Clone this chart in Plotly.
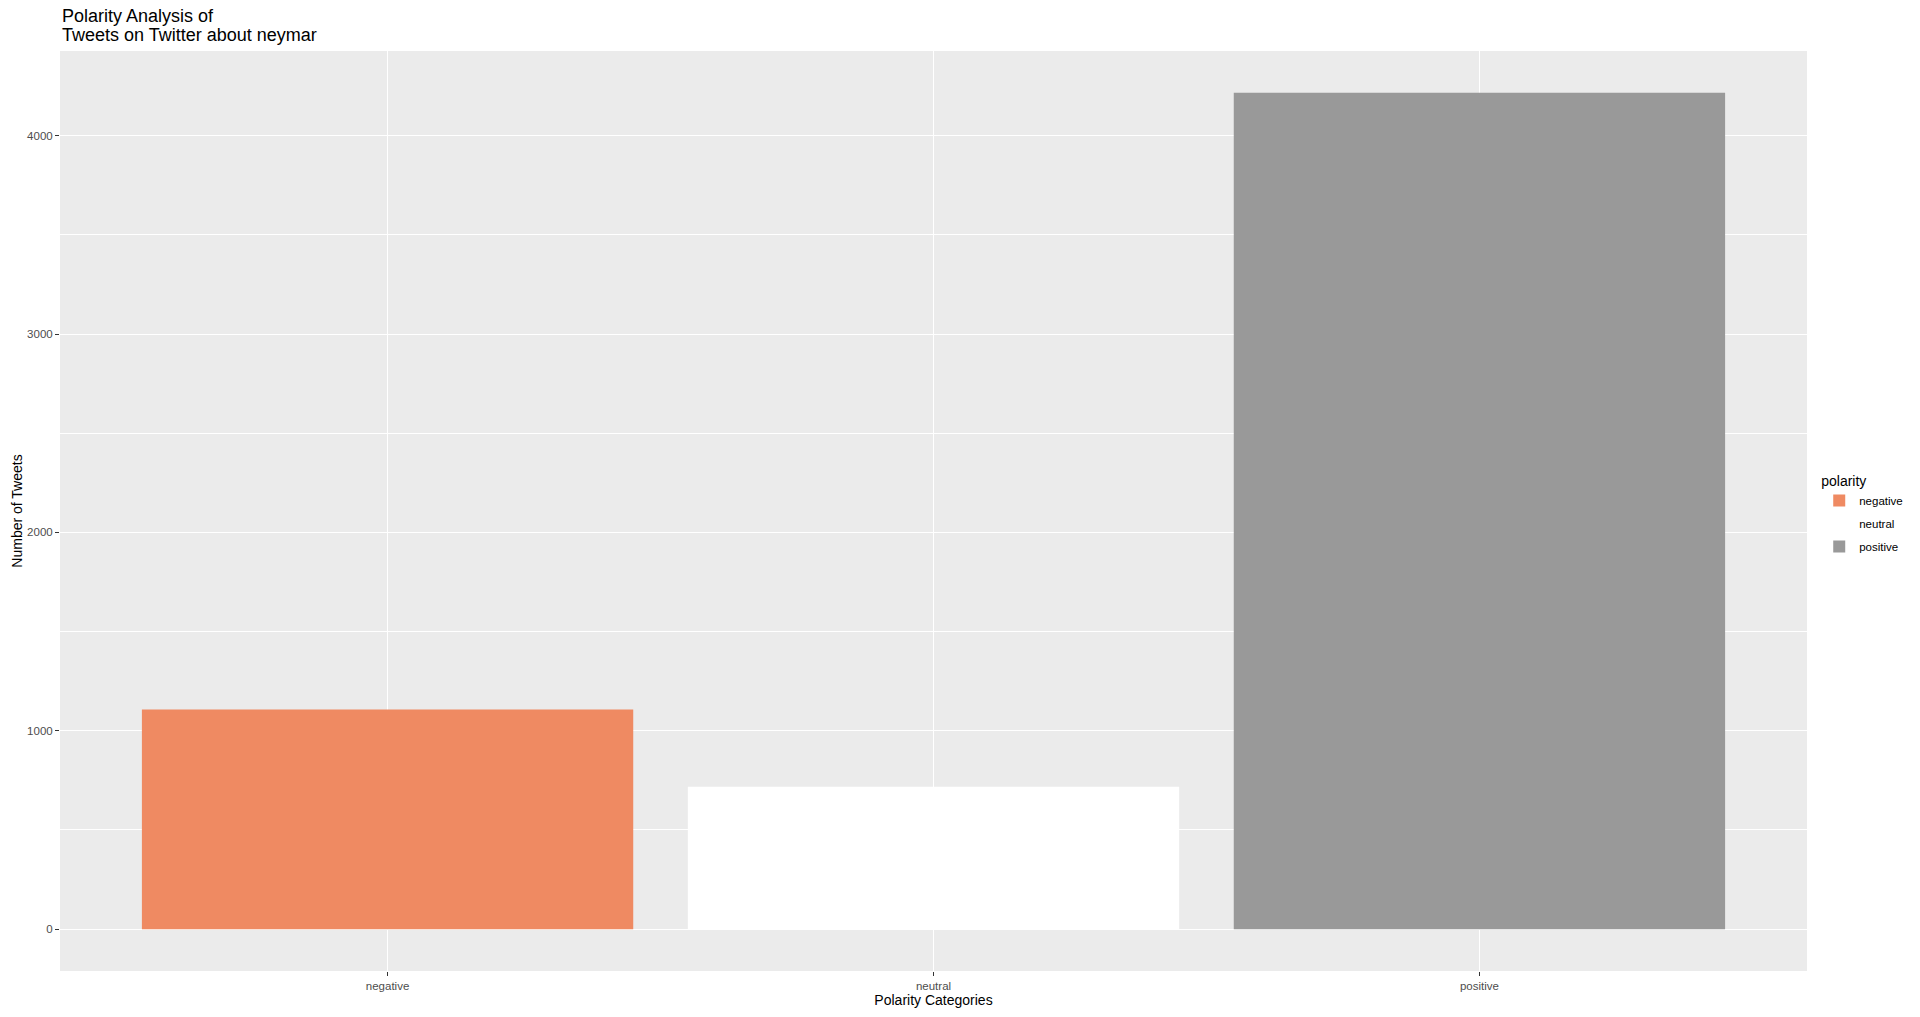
import plotly.graph_objects as go

# ---- data ----
categories = ["negative", "neutral", "positive"]
tweet_counts = [1108, 718, 4216]
bar_colors = ["#EF8A62", "#FFFFFF", "#999999"]
title_lines = ["Polarity Analysis of", "Tweets on Twitter about neymar"]

FONT = "Liberation Sans, Arial, sans-serif"

fig = go.Figure()
for cat, n, col in zip(categories, tweet_counts, bar_colors):
    fig.add_trace(go.Bar(
        x=[cat],
        y=[n],
        name=cat,
        legendgroup=cat,
        marker=dict(color=col, line=dict(width=0)),
        width=0.9,
    ))

ymax = max(tweet_counts)
fig.update_yaxes(
    title_text="Number of Tweets",
    title_font=dict(size=14, color="black", family=FONT),
    title_standoff=1,
    automargin=False,
    range=[-0.05 * ymax, 1.05 * ymax],
    tickvals=[0, 1000, 2000, 3000, 4000],
    tickfont=dict(size=11.5, color="#4D4D4D", family=FONT),
    ticks="outside", ticklen=4, tickcolor="#333333", tickwidth=1,
    showgrid=True, gridcolor="white", gridwidth=1.3,
    minor=dict(showgrid=True, gridcolor="white", gridwidth=0.6, dtick=500, tick0=0),
    zeroline=False, showline=False,
)
# ggplot discrete scale: 0.6 padding on each side
fig.update_xaxes(
    title_text="Polarity Categories",
    title_font=dict(size=14, color="black", family=FONT),
    title_standoff=4,
    automargin=False,
    categoryorder="array", categoryarray=categories,
    range=[-0.6, len(categories) - 0.4],
    tickfont=dict(size=11.5, color="#4D4D4D", family=FONT),
    ticks="outside", ticklen=4, tickcolor="#333333", tickwidth=1,
    showgrid=True, gridcolor="white", gridwidth=1.3,
    zeroline=False, showline=False,
)

# two-line title, left aligned with the panel
for line, ypos in zip(title_lines, [1.0385, 1.017]):
    fig.add_annotation(
        text=line,
        xref="paper", yref="paper", x=0, y=ypos,
        xanchor="left", yanchor="middle", align="left",
        showarrow=False,
        font=dict(size=18, color="black", family=FONT),
    )

# page body adds an 8px margin, so the figure is 8px smaller
fig.update_layout(
    width=1912, height=1009,
    margin=dict(l=52, r=110, t=43, b=46),
    paper_bgcolor="white",
    plot_bgcolor="#EBEBEB",
    barmode="overlay",
    font=dict(family=FONT, color="black"),
    legend=dict(
        title=dict(text="polarity", font=dict(size=14, color="black")),
        font=dict(size=11.5, color="black"),
        x=1.007, xanchor="left", y=0.496, yanchor="middle",
        bgcolor="white", itemsizing="constant", tracegroupgap=4,
    ),
)

fig.write_html("out.html")
